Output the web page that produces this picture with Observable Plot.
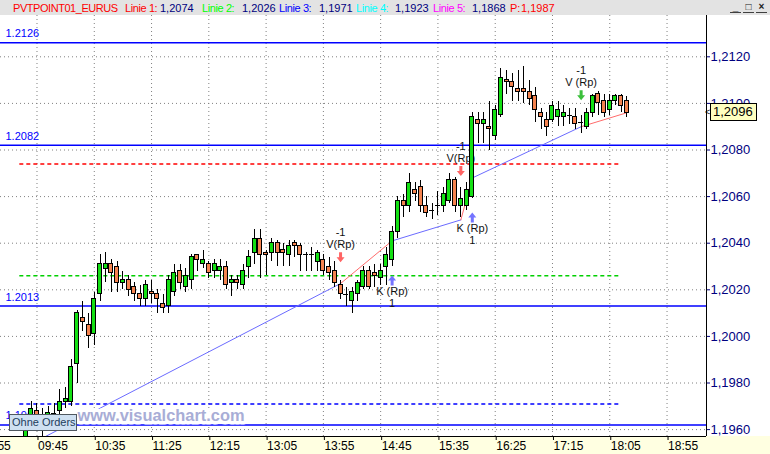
<!DOCTYPE html>
<html>
<head>
<meta charset="utf-8">
<script src="https://cdn.jsdelivr.net/npm/d3@7"></script>
<script src="https://cdn.jsdelivr.net/npm/@observablehq/plot@0.6"></script>
<style>
html, body { margin: 0; padding: 0; background: #fff; }
#wrap { position: relative; width: 770px; height: 454px; overflow: hidden; font-family: 'Liberation Sans', Arial, sans-serif; }
#hdr { position: absolute; left: 0; top: 0; width: 770px; height: 15px; background: #e3e3e3; font-size: 11px; }
#hdr span { position: absolute; top: 2px; white-space: nowrap; line-height: 13px; }
#hdr .btn { top: 2px; width: 11px; height: 10px; border-bottom: 1px solid #404040; text-align: center; font-weight: bold; font-size: 10px; line-height: 10px; color: #202020; }
#chart { position: absolute; left: 0; top: 15px; }
#pricebox { position: absolute; left: 710px; width: 43px; height: 16px; background: #ffffc0; border: 1px solid #000; font-size: 13px; line-height: 16px; padding-left: 2px; color: #000; }
#pricearrow { position: absolute; left: 705px; font-size: 9px; line-height: 9px; color: #000; }
#orders { position: absolute; left: 9px; top: 414px; width: 64px; height: 15px; background: #cfe0f2; border: 1px solid #505860; font-size: 11px; line-height: 15px; padding-left: 2px; color: #1d3d5d; white-space: nowrap; }
</style>
</head>
<body>
<div id="wrap">
  <div id="hdr"></div>
  <div id="chart"></div>
</div>
<script>
// ---------------- data ----------------
const symbolName = "PVTPOINT01_EURUS";
const lineLabels = ["Linie 1", "Linie 2", "Linie 3", "Linie 4", "Linie 5"];
const lineValues = [1.2074, 1.2026, 1.1971, 1.1923, 1.1868];
const pivotLabel = "P";
const pivotValue = 1.1987;
const lineStart = "09:30";
const lineEnd = "18:15";

const levelValues = [1.2126, 1.2082, 1.2013, 1.1962];

const times = [
  "09:35","09:40","09:45","09:50","09:55",
  "10:00","10:05","10:10","10:15","10:20","10:25","10:30","10:35","10:40","10:45","10:50","10:55",
  "11:00","11:05","11:10","11:15","11:20","11:25","11:30","11:35","11:40","11:45","11:50","11:55",
  "12:00","12:05","12:10","12:15","12:20","12:25","12:30","12:35","12:40","12:45","12:50","12:55",
  "13:00","13:05","13:10","13:15","13:20","13:25","13:30","13:35","13:40","13:45","13:50","13:55",
  "14:00","14:05","14:10","14:15","14:20","14:25","14:30","14:35","14:40","14:45","14:50","14:55",
  "15:00","15:05","15:10","15:15","15:20","15:25","15:30","15:35","15:40","15:45","15:50","15:55",
  "16:00","16:05","16:10","16:15","16:20","16:25","16:30","16:35","16:40","16:45","16:50","16:55",
  "17:00","17:05","17:10","17:15","17:20","17:25","17:30","17:35","17:40","17:45","17:50","17:55",
  "18:00","18:05","18:10","18:15","18:20"
];
const opens = [
  1.1952,1.1966,1.1968,1.1966,1.1966,
  1.1967,1.1968,1.1972,1.1972,1.1988,1.2008,1.2005,1.2001,1.2018,1.2029,1.2031,1.2030,
  1.2023,1.2024,1.2021,1.2018,1.2016,1.2019,1.2018,1.2014,1.2013,1.2019,1.2028,1.2021,
  1.2024,1.2035,1.2031,1.2031,1.2028,1.2028,1.2030,1.2023,1.2024,1.2022,1.2030,1.2036,
  1.2042,1.2036,1.2036,1.2040,1.2037,1.2035,1.2040,1.2039,1.2035,1.2035,1.2032,1.2033,
  1.2030,1.2028,1.2022,1.2018,1.2015,1.2018,1.2021,1.2028,1.2027,1.2025,1.2030,1.2033,
  1.2045,1.2058,1.2056,1.2063,1.2064,1.2056,1.2054,1.2056,1.2056,1.2058,1.2067,1.2056,
  1.2056,1.2060,1.2093,1.2091,1.2090,1.2086,1.2095,1.2110,1.2109,1.2106,1.2106,1.2105,
  1.2103,1.2096,1.2093,1.2093,1.2094,1.2094,1.2095,1.2094,1.2092,1.2090,1.2096,1.2104,
  1.2101,1.2097,1.2101,1.2103,1.2101
];
const highs = [
  1.1964,1.1972,1.1971,1.1969,1.1970,
  1.1971,1.1977,1.1978,1.1990,1.2011,1.2015,1.2010,1.2019,1.2035,1.2036,1.2033,1.2032,
  1.2028,1.2026,1.2023,1.2022,1.2024,1.2024,1.2020,1.2018,1.2026,1.2031,1.2031,1.2029,
  1.2035,1.2035,1.2037,1.2032,1.2033,1.2033,1.2032,1.2026,1.2026,1.2031,1.2037,1.2046,
  1.2046,1.2037,1.2042,1.2041,1.2040,1.2041,1.2041,1.2040,1.2036,1.2038,1.2037,1.2035,
  1.2034,1.2032,1.2024,1.2021,1.2021,1.2024,1.2030,1.2030,1.2031,1.2031,1.2038,1.2047,
  1.2060,1.2061,1.2070,1.2066,1.2067,1.2060,1.2057,1.2062,1.2064,1.2070,1.2068,1.2064,
  1.2066,1.2096,1.2096,1.2096,1.2101,1.2099,1.2115,1.2114,1.2113,1.2114,1.2116,1.2110,
  1.2107,1.2098,1.2096,1.2101,1.2101,1.2099,1.2098,1.2098,1.2095,1.2098,1.2104,1.2105,
  1.2104,1.2104,1.2104,1.2104,1.2103
];
const lows = [
  1.1948,1.1960,1.1961,1.1957,1.1962,
  1.1965,1.1966,1.1969,1.1970,1.1980,1.2002,1.1995,1.1996,1.2015,1.2023,1.2019,1.2019,
  1.2020,1.2017,1.2015,1.2013,1.2013,1.2014,1.2010,1.2010,1.2010,1.2017,1.2020,1.2019,
  1.2020,1.2028,1.2029,1.2025,1.2025,1.2024,1.2020,1.2017,1.2020,1.2020,1.2025,1.2031,
  1.2025,1.2026,1.2032,1.2030,1.2030,1.2030,1.2034,1.2028,1.2028,1.2028,1.2028,1.2026,
  1.2024,1.2021,1.2016,1.2013,1.2010,1.2015,1.2020,1.2020,1.2021,1.2022,1.2022,1.2030,
  1.2042,1.2051,1.2053,1.2058,1.2053,1.2051,1.2050,1.2052,1.2053,1.2057,1.2053,1.2051,
  1.2054,1.2059,1.2083,1.2083,1.2080,1.2084,1.2094,1.2104,1.2101,1.2101,1.2100,1.2099,
  1.2092,1.2089,1.2086,1.2092,1.2090,1.2090,1.2091,1.2089,1.2087,1.2089,1.2094,1.2095,
  1.2094,1.2095,1.2099,1.2096,1.2094
];
const closes = [
  1.1962,1.1969,1.1966,1.1966,1.1967,
  1.1967,1.1972,1.1973,1.1987,1.2010,1.2006,1.2000,1.2016,1.2031,1.2031,1.2027,1.2023,
  1.2024,1.2020,1.2018,1.2016,1.2022,1.2018,1.2016,1.2012,1.2024,1.2027,1.2023,1.2026,
  1.2034,1.2033,1.2033,1.2027,1.2031,1.2030,1.2022,1.2024,1.2023,1.2028,1.2034,1.2042,
  1.2035,1.2035,1.2040,1.2036,1.2036,1.2039,1.2039,1.2035,1.2035,1.2035,1.2036,1.2028,
  1.2027,1.2023,1.2018,1.2018,1.2019,1.2023,1.2028,1.2021,1.2026,1.2028,1.2035,1.2045,
  1.2058,1.2056,1.2066,1.2061,1.2056,1.2053,1.2054,1.2056,1.2061,1.2067,1.2056,1.2059,
  1.2063,1.2094,1.2091,1.2093,1.2089,1.2097,1.2111,1.2109,1.2107,1.2105,1.2105,1.2102,
  1.2097,1.2094,1.2090,1.2099,1.2097,1.2096,1.2095,1.2091,1.2092,1.2096,1.2103,1.2100,
  1.2096,1.2101,1.2103,1.2099,1.2096
];

const trendTimes = ["09:35", "14:10", "14:55", "15:55", "16:05", "17:40", "18:20"];
const trendPrices = [1.19526, 1.20227, 1.2041, 1.2050, 1.2068, 1.2090, 1.2096];

const signalTimes = ["14:10", "14:55", "15:55", "16:05", "17:40"];
const signalTypes = ["V", "K", "V", "K", "V"];
const signalPrices = [1.2034, 1.2024, 1.2071, 1.2051, 1.21035];
const signalLabels = ["V(Rp)", "K (Rp)", "V(Rp)", "K (Rp)", "V (Rp)"];
const signalQty = ["-1", "1", "-1", "1", "-1"];

const xTickLabels = ["08:55","09:45","10:35","11:25","12:15","13:05","13:55","14:45","15:35","16:25","17:15","18:05","18:55"];
const yTickValues = [1.1960, 1.1980, 1.2000, 1.2020, 1.2040, 1.2060, 1.2080, 1.2100, 1.2120];

const watermark = "www.visualchart.com";
const ordersText = "Ohne Orders";

// ---------------- layout / style ----------------
const X_DOMAIN = [553.14, 1169.45];
const Y_DOMAIN = [1.195704, 1.2137725];
const GREEN = "#14e014", ORANGE = "#f4834f";
const LINE_COLORS = ["#ff0000", "#00d000", "#0000ff", "#00ffff", "#ff00ff"];
const FONT = "'Liberation Sans', Arial, sans-serif";

const toMin = s => { const [h, m] = s.split(":").map(Number); return h * 60 + m; };
const fmtMin = m => String(Math.floor(m / 60)).padStart(2, "0") + ":" + String(m % 60).padStart(2, "0");
const comma = v => v.toFixed(4).replace(".", ",");

const candles = times.map((t, i) => ({t: toMin(t), o: opens[i], h: highs[i], l: lows[i], c: closes[i]}));
const bodies = candles.filter(d => Math.abs(d.o - d.c) >= 0.00005);
const dojis = candles.filter(d => Math.abs(d.o - d.c) < 0.00005);

const dashRows = lineValues.map((v, i) => ({v, t1: toMin(lineStart), t2: toMin(lineEnd), color: LINE_COLORS[i]}));

const trendSegs = [];
for (let i = 0; i < trendTimes.length - 1; i++) {
  const color = i % 2 === 0 ? "#6b6bff" : "#ff6b6b";
  trendSegs.push({seg: i, t: toMin(trendTimes[i]), p: trendPrices[i], color});
  trendSegs.push({seg: i, t: toMin(trendTimes[i + 1]), p: trendPrices[i + 1], color});
}

const signals = signalTimes.map((t, i) => ({
  t: toMin(t), p: signalPrices[i], type: signalTypes[i], label: signalLabels[i], qty: signalQty[i],
  color: signalTypes[i] === "K" ? "#7474ff" : (i === signalTimes.length - 1 ? "#3cc03c" : "#ff6464")
}));
const sells = signals.filter(d => d.type === "V");
const buys = signals.filter(d => d.type === "K");

const arrowDown = {draw(ctx) {
  ctx.moveTo(-1.5, -5); ctx.lineTo(1.5, -5); ctx.lineTo(1.5, 0); ctx.lineTo(4, 0);
  ctx.lineTo(0, 5); ctx.lineTo(-4, 0); ctx.lineTo(-1.5, 0); ctx.closePath();
}};
const arrowUp = {draw(ctx) {
  ctx.moveTo(0, -5); ctx.lineTo(4, 0); ctx.lineTo(1.5, 0); ctx.lineTo(1.5, 5);
  ctx.lineTo(-1.5, 5); ctx.lineTo(-1.5, 0); ctx.lineTo(-4, 0); ctx.closePath();
}};

const xTickMins = xTickLabels.map(toMin);
const gridStyle = {stroke: "#808080", strokeOpacity: 1, strokeDasharray: "1,3"};

const chart = Plot.plot({
  width: 770, height: 439,
  marginTop: 0, marginRight: 64, marginBottom: 18, marginLeft: 0,
  style: {fontFamily: FONT, fontSize: "11px", color: "#000", background: "linear-gradient(to bottom, #ffffff 0px, #ffffff 421px, #ffffe1 421px)"},
  x: {type: "linear", domain: X_DOMAIN},
  y: {type: "linear", domain: Y_DOMAIN},
  color: {type: "identity"},
  marks: [
    Plot.gridY(yTickValues, gridStyle),
    Plot.gridX(xTickMins, gridStyle),
    Plot.ruleY(levelValues, {stroke: "#0000ff", strokeWidth: 1.5}),
    Plot.ruleY(dashRows, {y: "v", x1: "t1", x2: "t2", stroke: "color", strokeWidth: 1.5, strokeDasharray: "4,3", clip: true}),
    Plot.text(levelValues, {y: d => d, frameAnchor: "left", text: d => d.toFixed(4), dx: 5, dy: -9, textAnchor: "start", fill: "#0000ff", fontSize: 11}),
    Plot.line(trendSegs, {x: "t", y: "p", z: "seg", stroke: "color", strokeWidth: 1, clip: true}),
    // signal annotations
    Plot.text(sells, {x: "t", y: "p", text: "label", dy: -13, fill: "#111", fontSize: 11}),
    Plot.text(sells, {x: "t", y: "p", text: "qty", dy: -25, fill: "#111", fontSize: 11}),
    Plot.text(buys, {x: "t", y: "p", text: "label", dy: 11, fill: "#111", fontSize: 11}),
    Plot.text(buys, {x: "t", y: "p", text: "qty", dy: 23, fill: "#111", fontSize: 11}),
    // candles
    Plot.ruleX(candles, {x: "t", y1: "l", y2: "h", stroke: "#000", strokeWidth: 1, clip: true, shapeRendering: "crispEdges"}),
    Plot.rect(bodies, {x1: d => d.t - 1.75, x2: d => d.t + 1.75, y1: "o", y2: "c", fill: d => d.c > d.o ? GREEN : ORANGE, stroke: "#000", strokeWidth: 1, clip: true, shapeRendering: "crispEdges"}),
    Plot.ruleY(dojis, {y: "c", x1: d => d.t - 2.2, x2: d => d.t + 2.2, stroke: "#000", strokeWidth: 1, clip: true, shapeRendering: "crispEdges"}),
    // arrows
    Plot.dot(sells, {x: "t", y: "p", symbol: arrowDown, fill: "color", stroke: null, r: 5}),
    Plot.dot(buys, {x: "t", y: "p", symbol: arrowUp, fill: "color", stroke: null, r: 5}),
    // watermark
    Plot.text([watermark], {text: d => d, frameAnchor: "bottom-left", dx: 77, dy: -16, textAnchor: "start", fontSize: 16.4, fontWeight: "bold", fill: "#a8add6", stroke: "#ffffff", strokeWidth: 7, paintOrder: "stroke", strokeLinejoin: "round"}),
    // axes
    Plot.axisX(xTickMins, {tickFormat: fmtMin, tickSize: 4, tickPadding: 1, textAnchor: "start", dx: 1, fontSize: 12, color: "#000"}),
    Plot.axisY(yTickValues, {anchor: "right", tickFormat: comma, tickSize: 3, tickPadding: 1, fontSize: 13, color: "#000080"}),
    Plot.ruleY([Y_DOMAIN[0]], {stroke: "#000", strokeWidth: 1}),
    Plot.ruleX([X_DOMAIN[1]], {stroke: "#000", strokeWidth: 1})
  ]
});
document.getElementById("chart").appendChild(chart);

// ---------------- header ----------------
const hdr = document.getElementById("hdr");
const hdrItems = [
  [symbolName, "#ff0000", 13, "-0.45px"],
  [lineLabels[0] + ":", "#ff0000", 125, "-0.4px"], [comma(lineValues[0]), "#000080", 160],
  [lineLabels[1] + ":", "#00ff00", 202, "-0.4px"], [comma(lineValues[1]), "#000080", 242],
  [lineLabels[2] + ":", "#0000ff", 279, "-0.4px"], [comma(lineValues[2]), "#000080", 319],
  [lineLabels[3] + ":", "#00ffff", 356, "-0.4px"], [comma(lineValues[3]), "#000080", 395],
  [lineLabels[4] + ":", "#ff00ff", 433, "-0.4px"], [comma(lineValues[4]), "#000080", 472],
  [pivotLabel + ":", "#ff0000", 510], [comma(pivotValue), "#ff0000", 521]
];
for (const [txt, col, left, ls] of hdrItems) {
  const s = document.createElement("span");
  s.textContent = txt; s.style.color = col; s.style.left = left + "px";
  if (ls) s.style.letterSpacing = ls;
  hdr.appendChild(s);
}
[["_", 730], ["\u25A1", 743], ["\u00D7", 756]].forEach(([g, l]) => {
  const b = document.createElement("span");
  b.className = "btn"; b.textContent = g; b.style.left = l + "px";
  hdr.appendChild(b);
});

// ---------------- overlays ----------------
const wrap = document.getElementById("wrap");
const lastClose = closes[closes.length - 1];
const py = 15 + chart.scale("y").apply(lastClose);
const box = document.createElement("div");
box.id = "pricebox"; box.textContent = comma(lastClose); box.style.top = (py - 9) + "px";
wrap.appendChild(box);
const pa = document.createElement("div");
pa.id = "pricearrow"; pa.textContent = "<"; pa.style.top = (py - 4) + "px";
wrap.appendChild(pa);
const ord = document.createElement("div");
ord.id = "orders"; ord.textContent = ordersText;
wrap.appendChild(ord);
</script>
</body>
</html>
